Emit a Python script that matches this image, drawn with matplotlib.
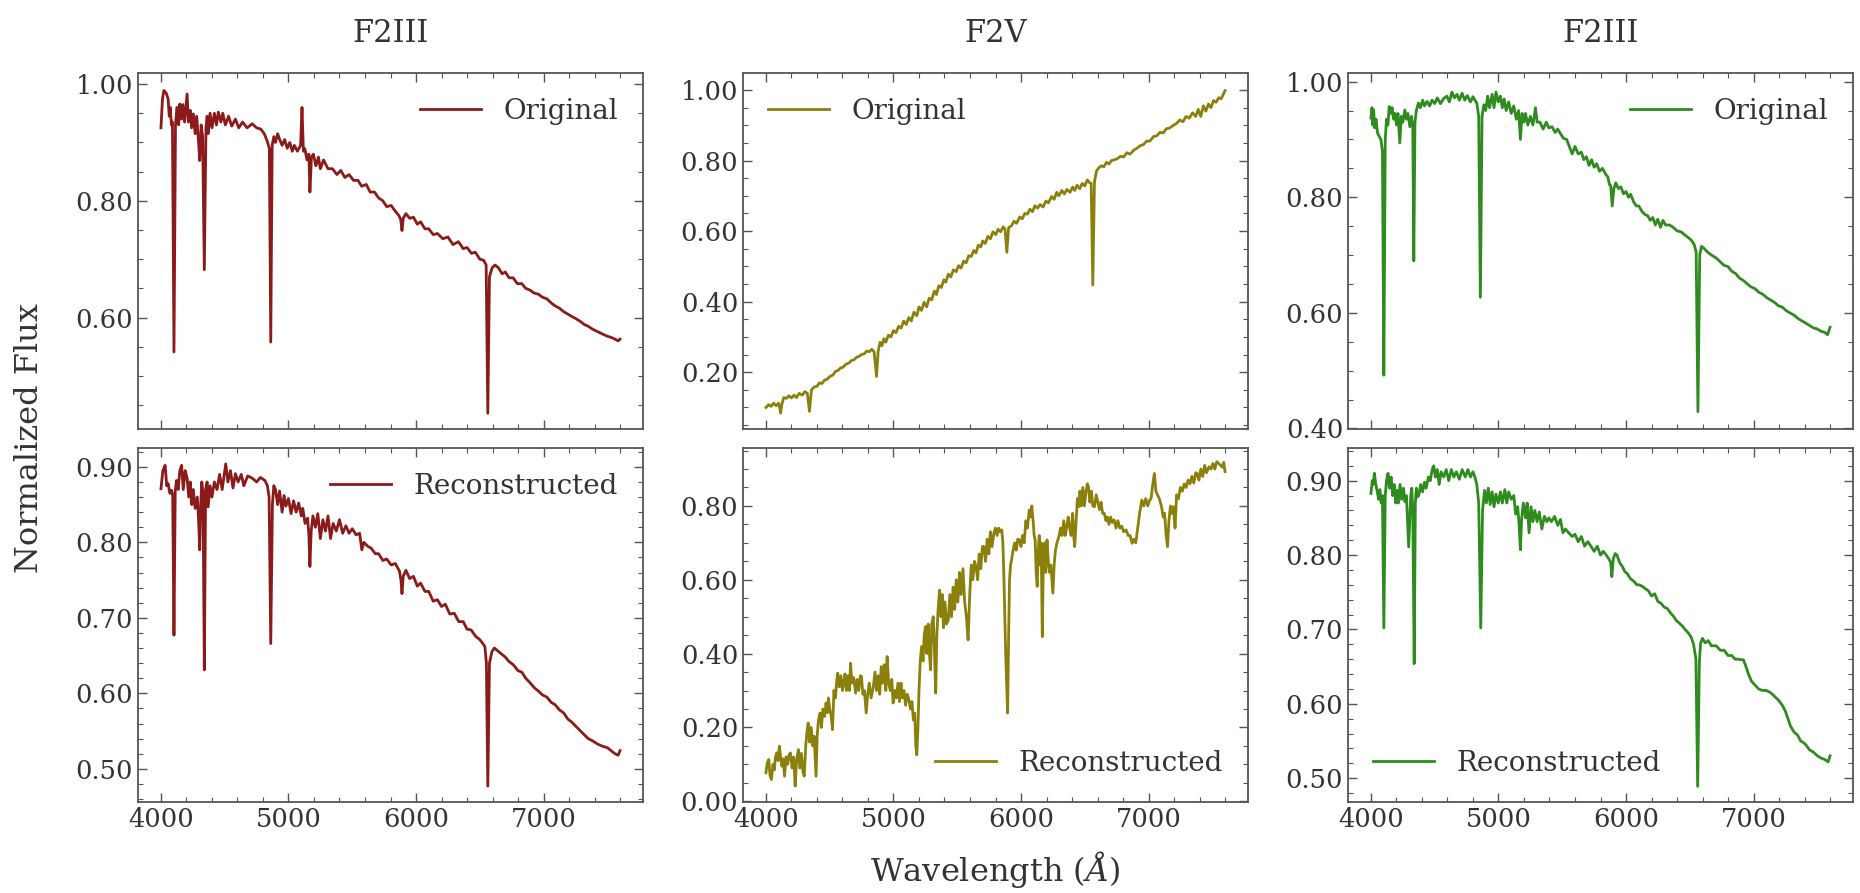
import matplotlib
matplotlib.use("Agg")
import matplotlib.pyplot as plt
from matplotlib.ticker import MultipleLocator, AutoMinorLocator, FormatStrFormatter

# Spectra: (wavelength in Angstrom, normalized flux)
titles = ["F2III", "F2V", "F2III"]
colors = ["#8b1a1a", "#8c800c", "#2e8b1e"]

left_orig = [
    (4000, 0.925), (4012, 0.975), (4023, 0.989), (4040, 0.985), (4056, 0.975), (4065, 0.945),
    (4073, 0.960), (4082, 0.930), (4090, 0.935), (4102, 0.541), (4114, 0.930), (4125, 0.960),
    (4139, 0.930), (4148, 0.966), (4160, 0.940), (4172, 0.965), (4185, 0.935), (4195, 0.960),
    (4205, 0.983), (4215, 0.935), (4230, 0.955), (4240, 0.925), (4254, 0.949), (4268, 0.915),
    (4280, 0.945), (4295, 0.900), (4304, 0.869), (4315, 0.930), (4327, 0.910), (4340, 0.682),
    (4353, 0.925), (4362, 0.945), (4370, 0.915), (4385, 0.950), (4400, 0.925), (4419, 0.950),
    (4435, 0.930), (4450, 0.952), (4470, 0.935), (4485, 0.950), (4505, 0.930), (4530, 0.945),
    (4555, 0.928), (4584, 0.940), (4610, 0.925), (4640, 0.935), (4675, 0.925), (4716, 0.932),
    (4750, 0.925), (4782, 0.923), (4810, 0.915), (4832, 0.903), (4850, 0.890), (4861, 0.558),
    (4872, 0.895), (4885, 0.910), (4898, 0.900), (4915, 0.915), (4931, 0.905), (4950, 0.895),
    (4970, 0.905), (4990, 0.890), (5010, 0.900), (5030, 0.885), (5046, 0.895), (5070, 0.885),
    (5095, 0.895), (5106, 0.960), (5117, 0.885), (5129, 0.889), (5145, 0.870), (5160, 0.880),
    (5168, 0.815), (5180, 0.875), (5195, 0.880), (5215, 0.860), (5235, 0.875), (5250, 0.855),
    (5275, 0.870), (5310, 0.855), (5345, 0.855), (5380, 0.845), (5410, 0.852), (5442, 0.840),
    (5475, 0.845), (5510, 0.835), (5545, 0.835), (5574, 0.825), (5610, 0.828), (5640, 0.815),
    (5675, 0.815), (5706, 0.805), (5740, 0.800), (5770, 0.790), (5805, 0.792), (5838, 0.782),
    (5865, 0.775), (5880, 0.768), (5890, 0.749), (5900, 0.770), (5921, 0.778), (5950, 0.770),
    (5980, 0.772), (6010, 0.760), (6036, 0.764), (6070, 0.752), (6100, 0.752), (6135, 0.742),
    (6168, 0.744), (6210, 0.735), (6250, 0.738), (6290, 0.725), (6333, 0.730), (6370, 0.718),
    (6400, 0.720), (6435, 0.710), (6465, 0.712), (6500, 0.700), (6531, 0.698), (6550, 0.690),
    (6563, 0.436), (6576, 0.670), (6597, 0.685), (6620, 0.690), (6647, 0.685), (6675, 0.675),
    (6700, 0.678), (6730, 0.668), (6762, 0.668), (6795, 0.658), (6830, 0.658), (6860, 0.650),
    (6894, 0.647), (6925, 0.642), (6960, 0.640), (6990, 0.635), (7026, 0.632), (7060, 0.625),
    (7090, 0.620), (7125, 0.616), (7158, 0.610), (7190, 0.606), (7220, 0.602), (7255, 0.598),
    (7290, 0.593), (7320, 0.588), (7350, 0.585), (7385, 0.580), (7422, 0.576), (7460, 0.572),
    (7500, 0.568), (7530, 0.566), (7560, 0.563), (7585, 0.560), (7600, 0.563),
]

left_rec = [
    (4000, 0.871), (4015, 0.895), (4033, 0.902), (4045, 0.875), (4056, 0.878), (4070, 0.865),
    (4083, 0.869), (4092, 0.862), (4102, 0.677), (4112, 0.868), (4122, 0.882), (4135, 0.870),
    (4148, 0.895), (4162, 0.902), (4175, 0.870), (4190, 0.895), (4205, 0.885), (4218, 0.860),
    (4230, 0.880), (4242, 0.850), (4254, 0.870), (4268, 0.845), (4285, 0.860), (4295, 0.830),
    (4304, 0.790), (4312, 0.850), (4320, 0.880), (4330, 0.865), (4340, 0.631), (4350, 0.870),
    (4362, 0.880), (4370, 0.847), (4385, 0.875), (4400, 0.860), (4419, 0.880), (4440, 0.870),
    (4460, 0.890), (4480, 0.870), (4508, 0.904), (4525, 0.880), (4545, 0.895), (4565, 0.872),
    (4584, 0.891), (4605, 0.880), (4630, 0.890), (4650, 0.875), (4680, 0.888), (4716, 0.885),
    (4750, 0.880), (4780, 0.886), (4815, 0.882), (4835, 0.875), (4848, 0.860), (4861, 0.666),
    (4874, 0.850), (4885, 0.875), (4898, 0.870), (4915, 0.850), (4930, 0.868), (4950, 0.840),
    (4965, 0.862), (4980, 0.848), (5000, 0.858), (5020, 0.838), (5040, 0.855), (5060, 0.840),
    (5080, 0.852), (5100, 0.835), (5112, 0.845), (5130, 0.825), (5150, 0.832), (5160, 0.810),
    (5168, 0.768), (5178, 0.815), (5192, 0.835), (5211, 0.820), (5230, 0.838), (5250, 0.805),
    (5270, 0.830), (5290, 0.815), (5310, 0.835), (5330, 0.805), (5350, 0.825), (5375, 0.815),
    (5400, 0.830), (5425, 0.812), (5450, 0.822), (5475, 0.812), (5500, 0.818), (5530, 0.810),
    (5558, 0.812), (5575, 0.790), (5591, 0.800), (5620, 0.795), (5650, 0.792), (5680, 0.785),
    (5706, 0.785), (5740, 0.776), (5770, 0.778), (5805, 0.770), (5838, 0.772), (5870, 0.762),
    (5882, 0.750), (5890, 0.732), (5900, 0.755), (5921, 0.763), (5950, 0.752), (5980, 0.755),
    (6010, 0.742), (6036, 0.746), (6070, 0.735), (6100, 0.735), (6135, 0.722), (6168, 0.724),
    (6200, 0.715), (6230, 0.718), (6265, 0.705), (6300, 0.706), (6335, 0.695), (6370, 0.695),
    (6400, 0.685), (6432, 0.684), (6470, 0.675), (6495, 0.672), (6515, 0.668), (6540, 0.662),
    (6552, 0.640), (6563, 0.477), (6576, 0.640), (6595, 0.655), (6614, 0.660), (6650, 0.655),
    (6700, 0.648), (6730, 0.642), (6762, 0.638), (6800, 0.630), (6830, 0.628), (6860, 0.620),
    (6894, 0.614), (6930, 0.607), (6960, 0.603), (6990, 0.598), (7026, 0.595), (7060, 0.588),
    (7090, 0.585), (7125, 0.578), (7158, 0.574), (7190, 0.566), (7220, 0.562), (7255, 0.556),
    (7290, 0.550), (7320, 0.545), (7350, 0.540), (7385, 0.537), (7422, 0.533), (7460, 0.530),
    (7500, 0.528), (7530, 0.524), (7560, 0.520), (7585, 0.518), (7600, 0.524),
]

mid_orig = [
    (4000, 0.100), (4020, 0.108), (4040, 0.103), (4060, 0.112), (4080, 0.105), (4099, 0.112),
    (4108, 0.100), (4115, 0.084), (4125, 0.110), (4140, 0.128), (4161, 0.126), (4180, 0.133),
    (4200, 0.127), (4220, 0.135), (4240, 0.128), (4260, 0.140), (4285, 0.135), (4305, 0.145),
    (4325, 0.140), (4341, 0.089), (4357, 0.150), (4378, 0.158), (4400, 0.160), (4420, 0.170),
    (4440, 0.168), (4460, 0.178), (4480, 0.180), (4502, 0.188), (4525, 0.192), (4545, 0.202),
    (4565, 0.205), (4585, 0.212), (4605, 0.214), (4625, 0.222), (4650, 0.226), (4670, 0.233),
    (4690, 0.235), (4710, 0.242), (4730, 0.245), (4749, 0.250), (4770, 0.252), (4790, 0.260),
    (4810, 0.258), (4830, 0.265), (4848, 0.258), (4867, 0.188), (4880, 0.260), (4895, 0.285),
    (4910, 0.275), (4925, 0.295), (4940, 0.285), (4960, 0.305), (4980, 0.300), (5000, 0.318),
    (5020, 0.312), (5040, 0.330), (5060, 0.325), (5080, 0.345), (5100, 0.335), (5120, 0.355),
    (5140, 0.345), (5160, 0.370), (5183, 0.360), (5200, 0.385), (5220, 0.375), (5240, 0.398),
    (5260, 0.385), (5280, 0.410), (5300, 0.405), (5320, 0.430), (5337, 0.420), (5355, 0.445),
    (5375, 0.440), (5395, 0.462), (5410, 0.455), (5430, 0.478), (5450, 0.470), (5470, 0.490),
    (5492, 0.485), (5510, 0.502), (5530, 0.495), (5550, 0.515), (5570, 0.510), (5590, 0.530),
    (5610, 0.528), (5630, 0.545), (5647, 0.538), (5665, 0.560), (5685, 0.555), (5700, 0.572),
    (5720, 0.565), (5740, 0.585), (5760, 0.578), (5780, 0.598), (5802, 0.590), (5820, 0.605),
    (5840, 0.598), (5860, 0.612), (5875, 0.605), (5889, 0.540), (5903, 0.610), (5926, 0.615),
    (5945, 0.628), (5965, 0.622), (5990, 0.640), (6010, 0.635), (6030, 0.650), (6050, 0.648),
    (6070, 0.662), (6090, 0.655), (6110, 0.672), (6130, 0.665), (6150, 0.675), (6173, 0.668),
    (6195, 0.685), (6215, 0.680), (6240, 0.698), (6260, 0.690), (6280, 0.710), (6297, 0.700),
    (6320, 0.715), (6340, 0.705), (6360, 0.718), (6385, 0.710), (6405, 0.725), (6421, 0.715),
    (6440, 0.730), (6460, 0.720), (6480, 0.735), (6500, 0.728), (6520, 0.745), (6535, 0.738),
    (6550, 0.735), (6563, 0.447), (6576, 0.740), (6592, 0.770), (6607, 0.778), (6630, 0.785),
    (6650, 0.782), (6670, 0.795), (6690, 0.790), (6710, 0.800), (6731, 0.802), (6755, 0.805),
    (6780, 0.812), (6805, 0.810), (6830, 0.822), (6855, 0.818), (6886, 0.830), (6910, 0.835),
    (6935, 0.842), (6960, 0.845), (6985, 0.855), (7010, 0.855), (7040, 0.868), (7065, 0.870),
    (7090, 0.880), (7115, 0.878), (7140, 0.890), (7165, 0.892), (7195, 0.900), (7220, 0.905),
    (7245, 0.915), (7270, 0.910), (7295, 0.925), (7320, 0.920), (7345, 0.935), (7370, 0.925),
    (7390, 0.945), (7410, 0.925), (7430, 0.955), (7450, 0.940), (7470, 0.960), (7490, 0.950),
    (7510, 0.970), (7530, 0.965), (7550, 0.978), (7570, 0.975), (7590, 0.990), (7600, 0.998),
]

mid_rec = [
    (4000, 0.077), (4011, 0.105), (4022, 0.113), (4032, 0.070), (4043, 0.059), (4055, 0.100),
    (4065, 0.085), (4075, 0.120), (4084, 0.131), (4095, 0.110), (4105, 0.149), (4115, 0.120),
    (4125, 0.095), (4135, 0.115), (4146, 0.068), (4158, 0.120), (4170, 0.100), (4180, 0.125),
    (4192, 0.131), (4205, 0.090), (4217, 0.120), (4229, 0.041), (4240, 0.110), (4254, 0.140),
    (4265, 0.090), (4278, 0.130), (4290, 0.080), (4300, 0.068), (4312, 0.150), (4322, 0.190),
    (4331, 0.212), (4342, 0.160), (4355, 0.200), (4368, 0.150), (4378, 0.176), (4386, 0.120),
    (4393, 0.068), (4402, 0.180), (4412, 0.220), (4424, 0.239), (4435, 0.200), (4447, 0.250),
    (4460, 0.230), (4471, 0.266), (4482, 0.240), (4490, 0.280), (4500, 0.250), (4512, 0.230),
    (4522, 0.194), (4533, 0.300), (4545, 0.280), (4556, 0.330), (4563, 0.347), (4575, 0.310),
    (4588, 0.340), (4600, 0.300), (4610, 0.320), (4620, 0.345), (4632, 0.300), (4645, 0.340),
    (4655, 0.300), (4663, 0.374), (4675, 0.320), (4688, 0.335), (4703, 0.293), (4715, 0.330),
    (4728, 0.300), (4740, 0.340), (4749, 0.338), (4760, 0.290), (4772, 0.300), (4786, 0.239),
    (4798, 0.290), (4810, 0.320), (4825, 0.280), (4842, 0.311), (4855, 0.350), (4867, 0.300),
    (4880, 0.340), (4892, 0.290), (4904, 0.365), (4915, 0.320), (4928, 0.370), (4940, 0.300),
    (4950, 0.392), (4962, 0.320), (4975, 0.300), (4987, 0.330), (4997, 0.266), (5010, 0.300),
    (5022, 0.280), (5035, 0.320), (5047, 0.270), (5059, 0.320), (5070, 0.280), (5082, 0.300),
    (5095, 0.260), (5108, 0.290), (5121, 0.275), (5133, 0.250), (5145, 0.270), (5156, 0.220),
    (5167, 0.239), (5175, 0.150), (5183, 0.126), (5192, 0.200), (5200, 0.300), (5210, 0.380),
    (5220, 0.419), (5232, 0.380), (5241, 0.450), (5251, 0.473), (5262, 0.400), (5272, 0.480),
    (5282, 0.400), (5291, 0.356), (5300, 0.480), (5312, 0.500), (5322, 0.400), (5331, 0.293),
    (5340, 0.450), (5350, 0.520), (5362, 0.572), (5372, 0.500), (5382, 0.560), (5392, 0.470),
    (5404, 0.540), (5416, 0.480), (5430, 0.491), (5442, 0.560), (5455, 0.500), (5468, 0.580),
    (5480, 0.520), (5492, 0.600), (5505, 0.540), (5518, 0.620), (5530, 0.560), (5545, 0.630),
    (5558, 0.540), (5572, 0.500), (5585, 0.437), (5598, 0.560), (5610, 0.640), (5622, 0.600),
    (5635, 0.650), (5647, 0.636), (5660, 0.600), (5672, 0.670), (5685, 0.630), (5697, 0.690),
    (5709, 0.690), (5722, 0.650), (5735, 0.710), (5748, 0.670), (5760, 0.730), (5773, 0.690),
    (5787, 0.726), (5800, 0.740), (5812, 0.720), (5825, 0.740), (5837, 0.730), (5849, 0.735),
    (5858, 0.700), (5865, 0.618), (5880, 0.400), (5895, 0.239), (5903, 0.450), (5910, 0.600),
    (5918, 0.640), (5926, 0.654), (5938, 0.680), (5950, 0.700), (5962, 0.680), (5975, 0.710),
    (5988, 0.708), (6000, 0.690), (6012, 0.720), (6025, 0.700), (6038, 0.760), (6050, 0.740),
    (6065, 0.789), (6075, 0.770), (6085, 0.800), (6095, 0.760), (6103, 0.720), (6111, 0.708),
    (6119, 0.620), (6127, 0.582), (6135, 0.680), (6143, 0.720), (6150, 0.640), (6158, 0.700),
    (6167, 0.446), (6175, 0.650), (6185, 0.700), (6194, 0.620), (6204, 0.708), (6214, 0.650),
    (6224, 0.620), (6234, 0.640), (6242, 0.600), (6250, 0.564), (6260, 0.640), (6270, 0.680),
    (6282, 0.700), (6297, 0.717), (6310, 0.740), (6322, 0.720), (6335, 0.760), (6347, 0.720),
    (6359, 0.744), (6370, 0.770), (6382, 0.740), (6393, 0.720), (6405, 0.780), (6413, 0.720),
    (6421, 0.690), (6432, 0.760), (6442, 0.820), (6452, 0.798), (6462, 0.840), (6472, 0.800),
    (6485, 0.850), (6497, 0.800), (6510, 0.840), (6520, 0.860), (6529, 0.852), (6540, 0.810),
    (6552, 0.840), (6563, 0.800), (6576, 0.798), (6590, 0.830), (6603, 0.810), (6615, 0.790),
    (6628, 0.810), (6640, 0.780), (6653, 0.780), (6666, 0.760), (6678, 0.770), (6690, 0.750),
    (6703, 0.770), (6716, 0.755), (6731, 0.762), (6745, 0.740), (6760, 0.760), (6775, 0.740),
    (6790, 0.745), (6805, 0.730), (6824, 0.735), (6840, 0.720), (6855, 0.720), (6871, 0.699),
    (6885, 0.710), (6900, 0.700), (6915, 0.740), (6930, 0.780), (6947, 0.816), (6962, 0.800),
    (6978, 0.820), (6994, 0.800), (7009, 0.816), (7020, 0.820), (7030, 0.850), (7046, 0.888),
    (7058, 0.840), (7070, 0.830), (7085, 0.820), (7102, 0.798), (7115, 0.770), (7126, 0.780),
    (7138, 0.720), (7149, 0.690), (7160, 0.760), (7172, 0.800), (7183, 0.780), (7195, 0.798),
    (7208, 0.740), (7220, 0.830), (7235, 0.820), (7250, 0.850), (7265, 0.840), (7280, 0.860),
    (7295, 0.850), (7310, 0.870), (7325, 0.860), (7340, 0.880), (7355, 0.862), (7370, 0.890),
    (7381, 0.888), (7395, 0.870), (7410, 0.900), (7425, 0.880), (7440, 0.910), (7455, 0.890),
    (7474, 0.906), (7490, 0.900), (7505, 0.915), (7520, 0.900), (7535, 0.920), (7551, 0.915),
    (7565, 0.910), (7580, 0.905), (7590, 0.918), (7600, 0.893),
]

right_orig = [
    (4000, 0.937), (4008, 0.955), (4014, 0.925), (4021, 0.951), (4030, 0.920), (4040, 0.935),
    (4052, 0.911), (4065, 0.905), (4078, 0.900), (4090, 0.880), (4101, 0.492), (4112, 0.900),
    (4122, 0.935), (4133, 0.925), (4143, 0.957), (4155, 0.945), (4166, 0.955), (4178, 0.935),
    (4189, 0.945), (4200, 0.925), (4212, 0.945), (4226, 0.894), (4238, 0.940), (4250, 0.930),
    (4266, 0.951), (4278, 0.935), (4290, 0.945), (4305, 0.922), (4318, 0.940), (4328, 0.920),
    (4336, 0.690), (4345, 0.930), (4356, 0.950), (4372, 0.963), (4388, 0.955), (4405, 0.968),
    (4420, 0.958), (4440, 0.966), (4460, 0.958), (4479, 0.968), (4500, 0.962), (4520, 0.972),
    (4545, 0.962), (4571, 0.971), (4595, 0.975), (4615, 0.965), (4635, 0.982), (4655, 0.972),
    (4675, 0.978), (4693, 0.968), (4715, 0.980), (4735, 0.968), (4755, 0.976), (4780, 0.965),
    (4800, 0.974), (4815, 0.968), (4830, 0.963), (4845, 0.940), (4858, 0.627), (4871, 0.940),
    (4885, 0.960), (4900, 0.950), (4915, 0.975), (4930, 0.955), (4950, 0.978), (4965, 0.955),
    (4980, 0.982), (4998, 0.965), (5015, 0.975), (5030, 0.955), (5045, 0.970), (5060, 0.950),
    (5080, 0.965), (5100, 0.945), (5120, 0.958), (5140, 0.935), (5158, 0.950), (5172, 0.900),
    (5185, 0.945), (5200, 0.930), (5212, 0.945), (5230, 0.925), (5250, 0.940), (5270, 0.925),
    (5290, 0.955), (5303, 0.930), (5325, 0.930), (5350, 0.918), (5375, 0.930), (5395, 0.920),
    (5420, 0.922), (5445, 0.912), (5465, 0.918), (5486, 0.910), (5510, 0.902), (5535, 0.900),
    (5555, 0.888), (5578, 0.875), (5600, 0.888), (5625, 0.875), (5650, 0.878), (5669, 0.865),
    (5690, 0.870), (5710, 0.855), (5730, 0.865), (5750, 0.852), (5770, 0.858), (5792, 0.845),
    (5815, 0.850), (5840, 0.840), (5858, 0.835), (5870, 0.822), (5880, 0.820), (5892, 0.785),
    (5905, 0.815), (5920, 0.825), (5940, 0.815), (5960, 0.818), (5980, 0.806), (6000, 0.810),
    (6020, 0.800), (6036, 0.805), (6060, 0.792), (6080, 0.785), (6100, 0.785), (6127, 0.775),
    (6150, 0.770), (6170, 0.768), (6190, 0.760), (6210, 0.765), (6230, 0.752), (6249, 0.762),
    (6270, 0.748), (6290, 0.760), (6310, 0.752), (6341, 0.752), (6370, 0.748), (6400, 0.742),
    (6432, 0.740), (6460, 0.735), (6490, 0.730), (6515, 0.725), (6535, 0.718), (6550, 0.705),
    (6564, 0.429), (6578, 0.700), (6592, 0.715), (6610, 0.712), (6640, 0.705), (6670, 0.700),
    (6707, 0.695), (6740, 0.688), (6770, 0.682), (6800, 0.680), (6829, 0.672), (6860, 0.668),
    (6890, 0.660), (6920, 0.656), (6951, 0.650), (6980, 0.645), (7010, 0.642), (7040, 0.636),
    (7073, 0.632), (7105, 0.626), (7135, 0.622), (7165, 0.618), (7196, 0.612), (7225, 0.610),
    (7255, 0.604), (7285, 0.600), (7318, 0.596), (7350, 0.590), (7380, 0.586), (7410, 0.582),
    (7440, 0.578), (7470, 0.574), (7500, 0.572), (7530, 0.568), (7560, 0.566), (7580, 0.562),
    (7600, 0.575),
]

right_rec = [
    (4000, 0.883), (4010, 0.900), (4018, 0.895), (4027, 0.910), (4038, 0.895), (4050, 0.885),
    (4060, 0.875), (4070, 0.888), (4080, 0.870), (4090, 0.880), (4101, 0.702), (4112, 0.880),
    (4122, 0.900), (4134, 0.910), (4145, 0.890), (4158, 0.905), (4170, 0.880), (4182, 0.895),
    (4195, 0.870), (4204, 0.887), (4215, 0.870), (4228, 0.895), (4240, 0.875), (4255, 0.890),
    (4266, 0.872), (4278, 0.880), (4288, 0.840), (4296, 0.811), (4305, 0.850), (4312, 0.880),
    (4320, 0.890), (4328, 0.860), (4339, 0.654), (4348, 0.870), (4356, 0.890), (4363, 0.878),
    (4375, 0.880), (4390, 0.895), (4405, 0.885), (4420, 0.898), (4433, 0.890), (4450, 0.905),
    (4465, 0.900), (4480, 0.915), (4492, 0.920), (4505, 0.905), (4520, 0.915), (4535, 0.895),
    (4550, 0.912), (4571, 0.905), (4590, 0.915), (4610, 0.900), (4630, 0.915), (4650, 0.905),
    (4670, 0.912), (4693, 0.902), (4715, 0.915), (4740, 0.905), (4760, 0.915), (4780, 0.905),
    (4800, 0.912), (4815, 0.905), (4830, 0.895), (4845, 0.870), (4861, 0.702), (4875, 0.860),
    (4891, 0.887), (4905, 0.870), (4920, 0.890), (4935, 0.868), (4950, 0.885), (4965, 0.865),
    (4980, 0.882), (4998, 0.870), (5015, 0.885), (5030, 0.870), (5050, 0.888), (5065, 0.870),
    (5080, 0.885), (5100, 0.875), (5120, 0.880), (5135, 0.855), (5151, 0.865), (5162, 0.840),
    (5172, 0.807), (5182, 0.850), (5195, 0.870), (5212, 0.850), (5225, 0.870), (5240, 0.830),
    (5255, 0.865), (5270, 0.845), (5285, 0.860), (5303, 0.845), (5320, 0.858), (5340, 0.835),
    (5360, 0.852), (5380, 0.845), (5395, 0.850), (5415, 0.845), (5440, 0.852), (5465, 0.840),
    (5486, 0.848), (5505, 0.830), (5525, 0.835), (5550, 0.830), (5578, 0.825), (5600, 0.828),
    (5625, 0.818), (5650, 0.825), (5675, 0.812), (5700, 0.818), (5725, 0.812), (5750, 0.805),
    (5775, 0.812), (5800, 0.800), (5822, 0.805), (5845, 0.800), (5865, 0.795), (5880, 0.790),
    (5889, 0.771), (5900, 0.795), (5915, 0.802), (5929, 0.800), (5950, 0.790), (5970, 0.785),
    (5990, 0.778), (6010, 0.775), (6036, 0.768), (6060, 0.765), (6085, 0.760), (6105, 0.760),
    (6127, 0.758), (6150, 0.755), (6175, 0.752), (6200, 0.745), (6225, 0.748), (6249, 0.738),
    (6275, 0.735), (6300, 0.730), (6325, 0.728), (6350, 0.722), (6371, 0.718), (6395, 0.712),
    (6420, 0.708), (6440, 0.705), (6463, 0.700), (6490, 0.695), (6510, 0.690), (6530, 0.680),
    (6548, 0.660), (6562, 0.489), (6575, 0.655), (6585, 0.682), (6600, 0.688), (6620, 0.682),
    (6645, 0.685), (6670, 0.678), (6707, 0.678), (6740, 0.672), (6770, 0.672), (6800, 0.665),
    (6829, 0.665), (6855, 0.660), (6880, 0.660), (6921, 0.659), (6945, 0.648), (6960, 0.640),
    (6985, 0.630), (7012, 0.625), (7040, 0.620), (7070, 0.618), (7100, 0.618), (7134, 0.615),
    (7165, 0.610), (7195, 0.605), (7226, 0.598), (7250, 0.590), (7270, 0.580), (7290, 0.570),
    (7318, 0.562), (7345, 0.558), (7370, 0.550), (7390, 0.548), (7410, 0.545), (7440, 0.538),
    (7470, 0.535), (7501, 0.530), (7530, 0.527), (7560, 0.525), (7585, 0.522), (7600, 0.530),
]

originals = [left_orig, mid_orig, right_orig]
reconstructed = [left_rec, mid_rec, right_rec]

# axis ranges / tick steps per panel (top row, bottom row)
ylims_top = [(0.409, 1.019), (0.039, 1.048), (0.399, 1.015)]
ylims_bot = [(0.456, 0.925), (-0.002, 0.957), (0.468, 0.944)]
ystep_top = [0.2, 0.2, 0.2]
ystep_bot = [0.1, 0.2, 0.1]
loc_top = ["upper right", "upper left", "upper right"]
loc_bot = ["upper right", "lower right", "lower left"]

plt.rcParams["font.family"] = "DejaVu Serif"
plt.rcParams["mathtext.fontset"] = "dejavuserif"
plt.rcParams["text.color"] = "#333333"
plt.rcParams["axes.labelcolor"] = "#333333"
plt.rcParams["xtick.color"] = "#555555"
plt.rcParams["ytick.color"] = "#555555"
plt.rcParams["xtick.labelcolor"] = "#333333"
plt.rcParams["ytick.labelcolor"] = "#333333"

fig = plt.figure(figsize=(18.6, 8.93), dpi=100)

lefts = [138 / 1860, 743 / 1860, 1348 / 1860]
width = 505 / 1860
top_row = (1 - 429 / 893, (429 - 73) / 893)
bot_row = (1 - 802 / 893, (802 - 448) / 893)


def style_axis(ax, ylim, ystep):
    ax.set_xlim(3820, 7780)
    ax.set_ylim(*ylim)
    ax.xaxis.set_major_locator(MultipleLocator(1000))
    ax.xaxis.set_minor_locator(AutoMinorLocator(5))
    ax.yaxis.set_major_locator(MultipleLocator(ystep))
    ax.yaxis.set_minor_locator(AutoMinorLocator(4 if ystep == 0.2 else 5))
    ax.yaxis.set_major_formatter(FormatStrFormatter("%.2f"))
    ax.tick_params(which="both", direction="in", top=True, right=True, labelsize=18.5)
    ax.tick_params(which="major", length=6.5, width=1.0)
    ax.tick_params(which="minor", length=3.5, width=0.8)
    for s in ax.spines.values():
        s.set_color("#555555")
        s.set_linewidth(1.3)


for i in range(3):
    w, f = zip(*originals[i])
    ax1 = fig.add_axes([lefts[i], top_row[0], width, top_row[1]])
    ax1.plot(w, f, color=colors[i], lw=2.0, label="Original")
    style_axis(ax1, ylims_top[i], ystep_top[i])
    ax1.set_xticklabels([])
    ax1.set_title(titles[i], fontsize=22, pad=22, color="#333333")
    ax1.legend(loc=loc_top[i], frameon=False, fontsize=20, handlelength=2.2)

    w, f = zip(*reconstructed[i])
    ax2 = fig.add_axes([lefts[i], bot_row[0], width, bot_row[1]])
    ax2.plot(w, f, color=colors[i], lw=2.0, label="Reconstructed")
    style_axis(ax2, ylims_bot[i], ystep_bot[i])
    ax2.legend(loc=loc_bot[i], frameon=False, fontsize=20, handlelength=2.2)

fig.text(0.016, 0.51, "Normalized Flux", rotation=90, ha="center", va="center", fontsize=23)
fig.text(995 / 1860, 0.026, r"Wavelength ($\AA$)", ha="center", va="center", fontsize=23)

fig.savefig("out.png", dpi=100)
